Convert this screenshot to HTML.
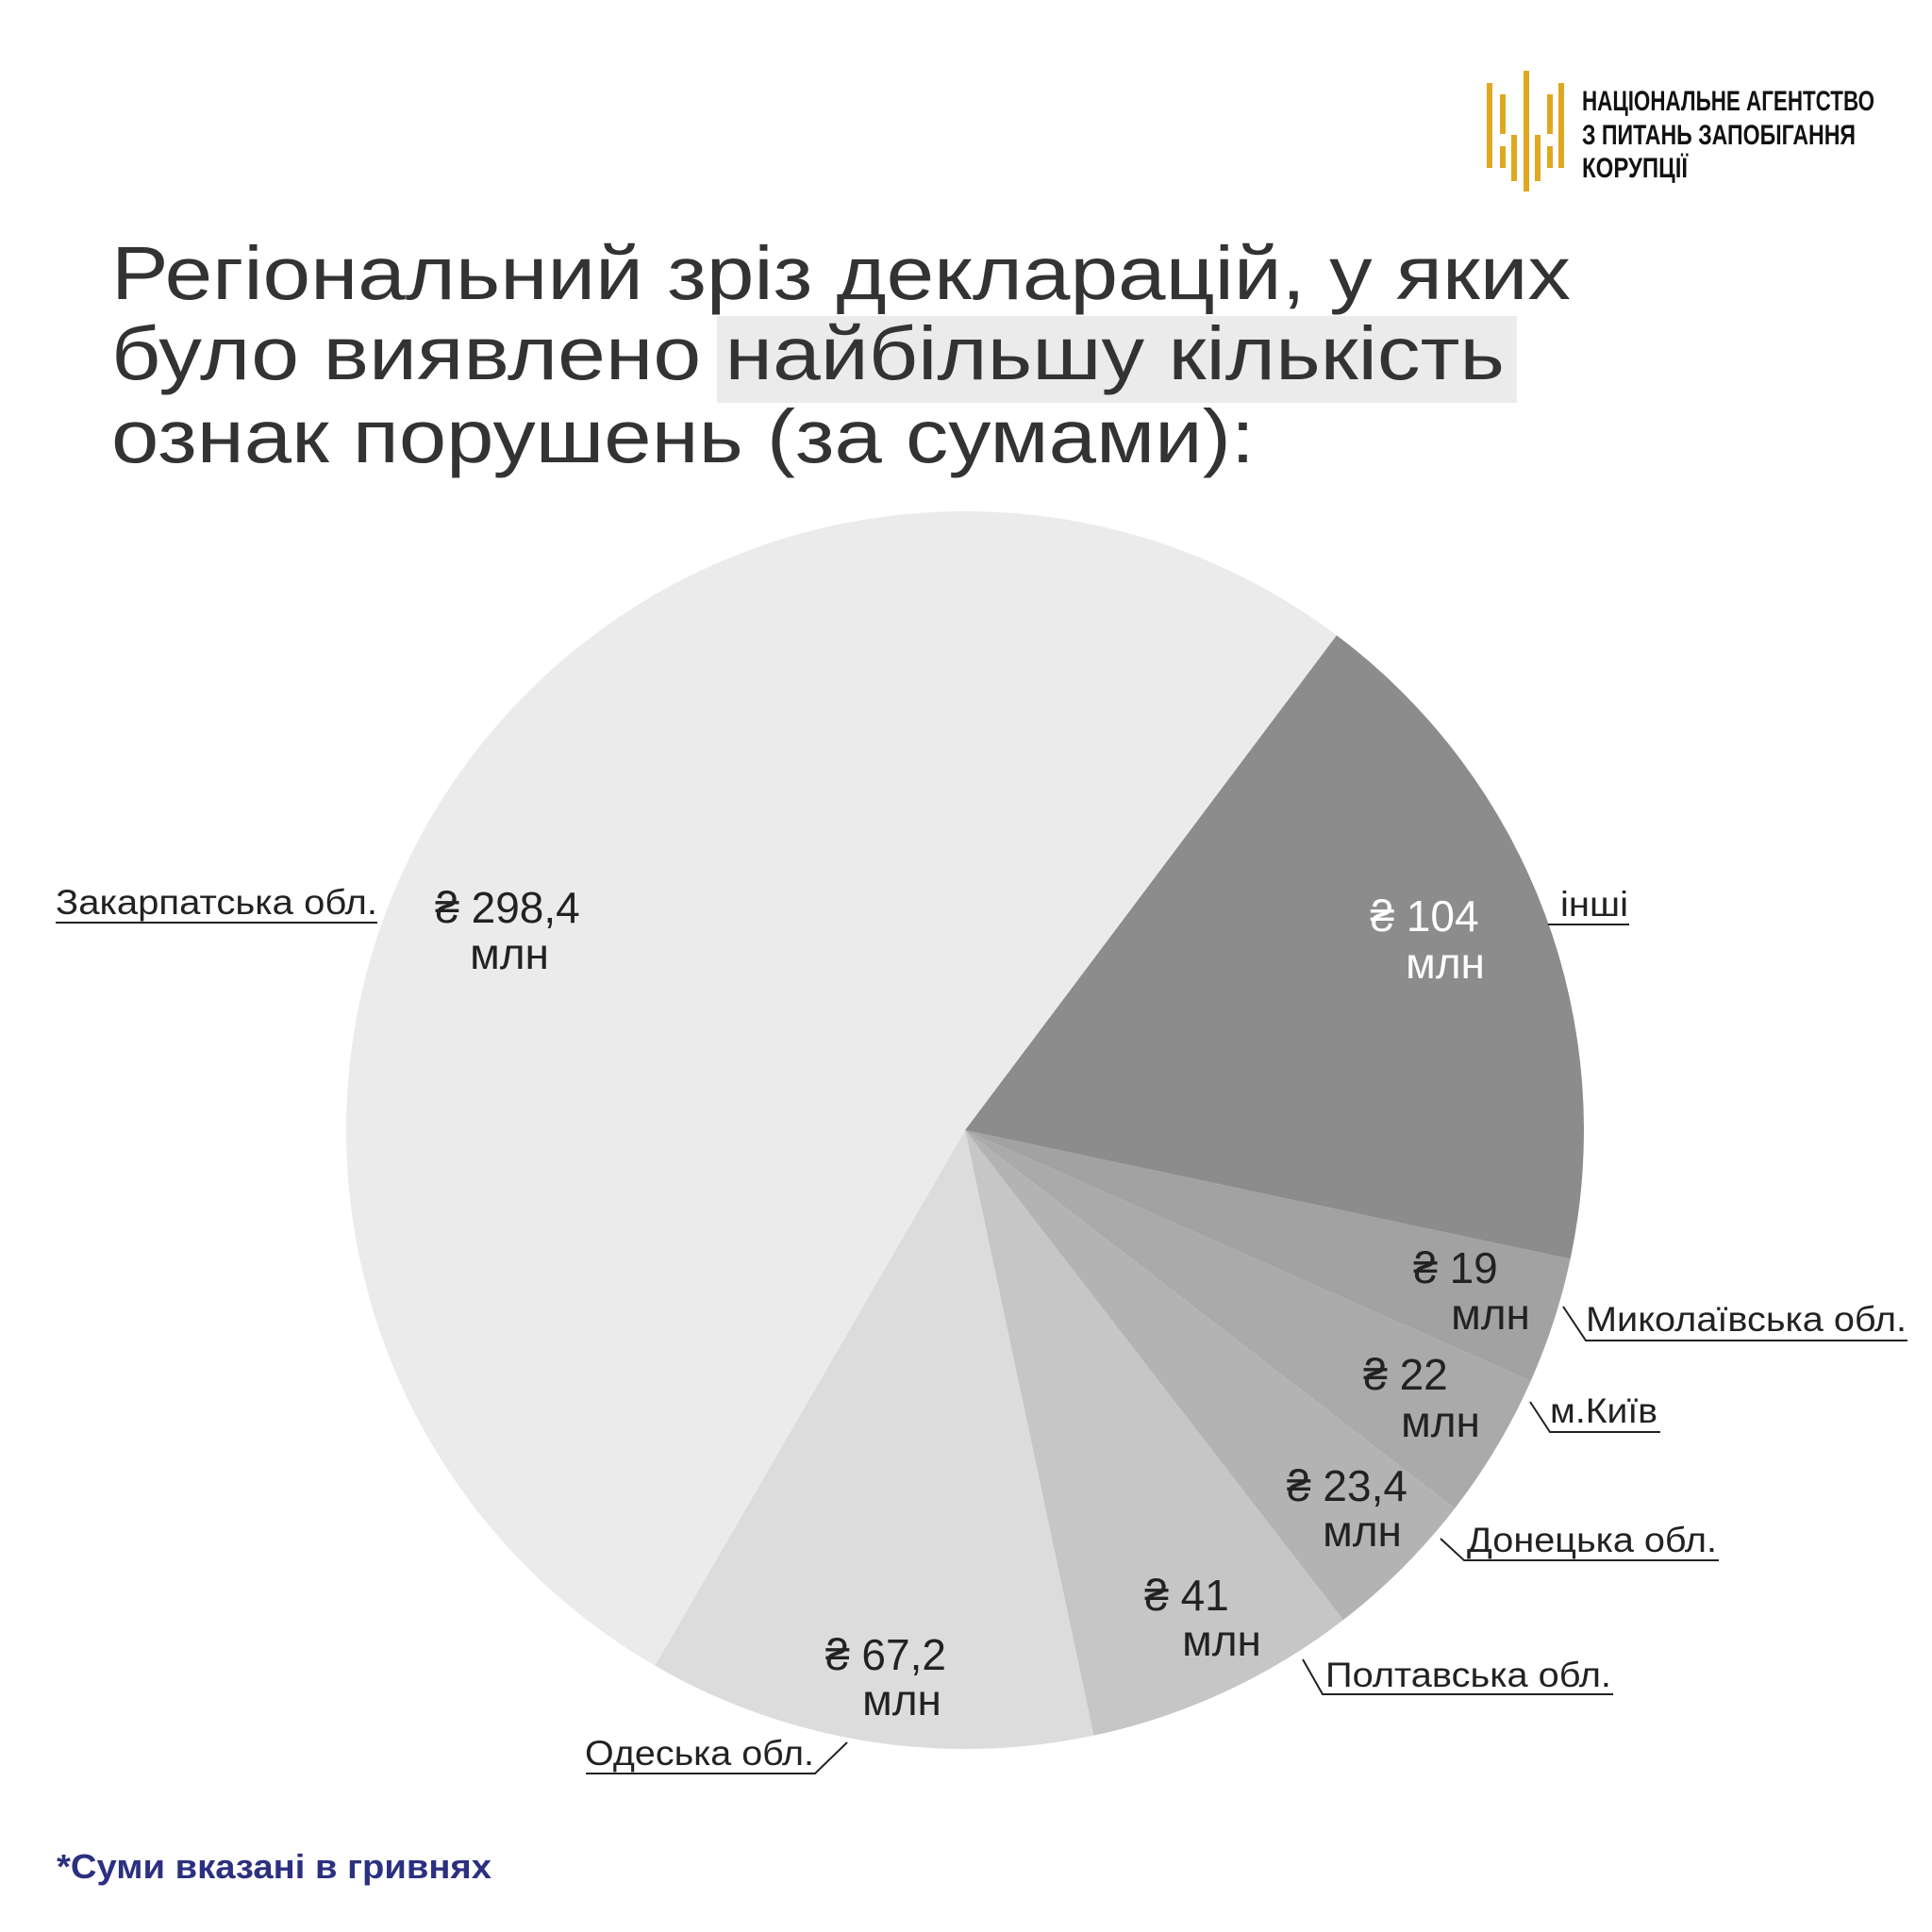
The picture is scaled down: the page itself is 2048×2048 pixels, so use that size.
<!DOCTYPE html>
<html><head><meta charset="utf-8"><style>
html,body{margin:0;padding:0;background:#fff;}
svg{display:block;}
.t{font-family:"Liberation Sans",sans-serif;fill:#333;font-size:80px;}
.lbl{font-family:"Liberation Sans",sans-serif;font-size:37px;fill:#222;}
.val{font-family:"Liberation Sans",sans-serif;font-size:46px;fill:#222;text-anchor:middle;}
</style></head><body>
<svg id="chart" width="2048" height="2048" viewBox="0 0 2048 2048">
<g fill="#e0a820">
<rect x="1576" y="88" width="6" height="90"/>
<rect x="1590" y="100" width="6" height="42"/><rect x="1590" y="155" width="6" height="23"/>
<rect x="1602" y="143" width="6" height="49"/>
<rect x="1615" y="75" width="6" height="128"/>
<rect x="1627" y="143" width="6" height="49"/>
<rect x="1640" y="100" width="6" height="42"/><rect x="1640" y="155" width="6" height="23"/>
<rect x="1652" y="88" width="6" height="90"/>
</g>
<g font-family="'Liberation Sans Narrow','Liberation Sans',sans-serif" font-weight="bold" font-size="30" fill="#111">
<text x="1677" y="117" textLength="310" lengthAdjust="spacingAndGlyphs">НАЦІОНАЛЬНЕ АГЕНТСТВО</text>
<text x="1677" y="153" textLength="290" lengthAdjust="spacingAndGlyphs">З ПИТАНЬ ЗАПОБІГАННЯ</text>
<text x="1677" y="188" textLength="112" lengthAdjust="spacingAndGlyphs">КОРУПЦІЇ</text>
</g>
<rect x="760" y="335" width="848" height="92" fill="#ebebeb"/>
<g>
<text class="t" x="118" y="317" textLength="1547" lengthAdjust="spacingAndGlyphs">Регіональний зріз декларацій, у яких</text>
<text class="t" x="118" y="402" textLength="1477" lengthAdjust="spacingAndGlyphs">було виявлено найбільшу кількість</text>
<text class="t" x="118" y="490" textLength="1212" lengthAdjust="spacingAndGlyphs">ознак порушень (за сумами):</text>
</g>
<g id="slices"></g>
<g id="vals"></g>
<g stroke="#222" stroke-width="2" fill="none">
<line x1="59" y1="978" x2="400" y2="978"/>
<polyline points="1641,980 1727,980"/>
<polyline points="1657,1385 1681,1421 2022,1421"/>
<polyline points="1622,1486 1643,1518 1760,1518"/>
<polyline points="1527,1631 1552,1654 1822,1654"/>
<polyline points="1381,1759 1402,1796 1710,1796"/>
<polyline points="898,1847 864,1880 621,1880"/>
</g>
<g>
<text class="lbl" x="59" y="969" textLength="341" lengthAdjust="spacingAndGlyphs">Закарпатська обл.</text>
<text class="lbl" x="1654" y="971" textLength="72" lengthAdjust="spacingAndGlyphs">інші</text>
<text class="lbl" x="1681" y="1411" textLength="340" lengthAdjust="spacingAndGlyphs">Миколаївська обл.</text>
<text class="lbl" x="1643" y="1508" textLength="114" lengthAdjust="spacingAndGlyphs">м.Київ</text>
<text class="lbl" x="1555" y="1645" textLength="265" lengthAdjust="spacingAndGlyphs">Донецька обл.</text>
<text class="lbl" x="1405" y="1788" textLength="303" lengthAdjust="spacingAndGlyphs">Полтавська обл.</text>
<text class="lbl" x="620" y="1871" textLength="243" lengthAdjust="spacingAndGlyphs">Одеська обл.</text>
</g>
<text x="60" y="1991" font-family="'Liberation Sans',sans-serif" font-weight="bold" font-size="36" fill="#2b3080" textLength="461" lengthAdjust="spacingAndGlyphs">*Суми вказані в гривнях</text>
</svg>
<script>
const categories = ["інші","Миколаївська обл.","м.Київ","Донецька обл.","Полтавська обл.","Одеська обл.","Закарпатська обл."];
const values = [104, 19, 22, 23.4, 41, 67.2, 298.4];
const valueLabels = ["₴ 104","₴ 19","₴ 22","₴ 23,4","₴ 41","₴ 67,2","₴ 298,4"];
const colors = ["#8c8c8c","#a2a2a2","#aaaaaa","#b3b3b3","#c6c6c6","#dcdcdc","#ebebeb"];
const cx = 1023, cy = 1198, R = 656, startDeg = 36.9;
const labelPos = [[1510,987],[1543,1360],[1490,1473],[1428,1591],[1258,1707],[939,1770],[538,978]];
const unitPos = [[1532,1037],[1580,1409],[1527,1523],[1444,1639],[1295,1755],[956,1818],[540,1027]];
const ns = "http://www.w3.org/2000/svg";
const total = values.reduce((a,b)=>a+b,0);
function pt(deg, r){ const a = deg*Math.PI/180; return [cx + r*Math.sin(a), cy - r*Math.cos(a)]; }
const sg = document.getElementById('slices'), vg = document.getElementById('vals');
let ang = startDeg;
values.forEach((v,i)=>{
  const sweep = v/total*360, a0 = ang, a1 = ang+sweep;
  const p0 = pt(a0,R), p1 = pt(a1,R);
  const path = document.createElementNS(ns,'path');
  path.setAttribute('d',`M${cx},${cy} L${p0[0]},${p0[1]} A${R},${R} 0 ${sweep>180?1:0} 1 ${p1[0]},${p1[1]} Z`);
  path.setAttribute('fill',colors[i]);
  
  
  sg.appendChild(path);
  const col = i===0 ? '#fff' : '#222';
  const t1 = document.createElementNS(ns,'text');
  t1.setAttribute('class','val'); t1.setAttribute('x',labelPos[i][0]); t1.setAttribute('y',labelPos[i][1]); t1.style.fill=col;
  t1.textContent = valueLabels[i];
  
  
  const t2 = document.createElementNS(ns,'text');
  t2.setAttribute('class','val'); t2.setAttribute('x',unitPos[i][0]); t2.setAttribute('y',unitPos[i][1]); t2.style.fill=col;
  t2.textContent = 'млн';
  
  
  vg.appendChild(t1); vg.appendChild(t2);
  ang = a1;
});
</script>
</body></html>
